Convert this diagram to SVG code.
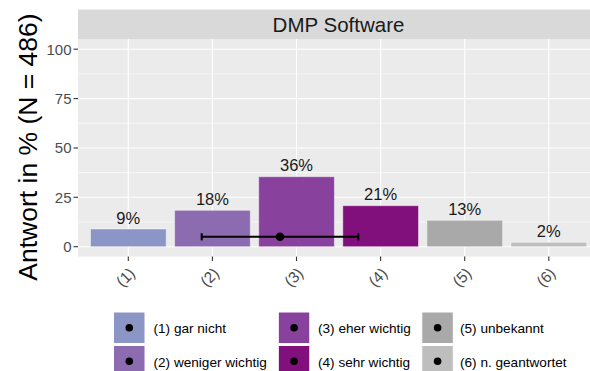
<svg xmlns="http://www.w3.org/2000/svg" width="590" height="371" viewBox="0 0 590 371">
  <style>
    .grid-major { stroke: #ffffff; stroke-width: 1.1; fill: none; }
    .grid-minor { stroke: #ffffff; stroke-width: 0.55; fill: none; }
    .tick { stroke: #333333; stroke-width: 1.1; }
    .ytick { font-family: "Liberation Sans", Arial, sans-serif; font-size: 15px; fill: #4d4d4d; text-anchor: end; }
    .xtick { font-family: "Liberation Sans", Arial, sans-serif; font-size: 15.5px; fill: #4d4d4d; text-anchor: middle; }
    .val { font-family: "Liberation Sans", Arial, sans-serif; font-size: 16.5px; fill: #1a1a1a; text-anchor: middle; }
    .bar { stroke: #ffffff; stroke-opacity: 0.45; stroke-width: 1; }
    .leg { font-family: "Liberation Sans", Arial, sans-serif; font-size: 13.6px; fill: #000000; }
    .key { stroke: #ffffff; stroke-width: 1; }
    .err { stroke: #000000; stroke-width: 2.1; fill: none; }
  </style>

  <rect x="0" y="0" width="590" height="371" fill="#ffffff"/>

  <!-- facet strip -->
  <g id="strip">
    <rect x="78" y="9.5" width="521" height="29.5" fill="#d9d9d9"/>
    <text x="338.5" y="32.3" font-family="'Liberation Sans', Arial, sans-serif" font-size="20.5" fill="#1a1a1a" text-anchor="middle">DMP Software</text>
  </g>

  <!-- panel background and grid -->
  <g id="panel">
    <rect x="78" y="39" width="521" height="217.6" fill="#ebebeb"/>
    <g class="grid-minor">
      <line x1="78" x2="599" y1="222.0" y2="222.0"/>
      <line x1="78" x2="599" y1="172.6" y2="172.6"/>
      <line x1="78" x2="599" y1="123.3" y2="123.3"/>
      <line x1="78" x2="599" y1="73.9" y2="73.9"/>
    </g>
    <g class="grid-major">
      <line x1="78" x2="599" y1="246.7" y2="246.7"/>
      <line x1="78" x2="599" y1="197.3" y2="197.3"/>
      <line x1="78" x2="599" y1="148.0" y2="148.0"/>
      <line x1="78" x2="599" y1="98.6" y2="98.6"/>
      <line x1="78" x2="599" y1="49.2" y2="49.2"/>
      <line x1="128.3" x2="128.3" y1="39" y2="256.6"/>
      <line x1="212.4" x2="212.4" y1="39" y2="256.6"/>
      <line x1="296.5" x2="296.5" y1="39" y2="256.6"/>
      <line x1="380.6" x2="380.6" y1="39" y2="256.6"/>
      <line x1="464.7" x2="464.7" y1="39" y2="256.6"/>
      <line x1="548.8" x2="548.8" y1="39" y2="256.6"/>
    </g>
  </g>

  <!-- bars with value labels -->
  <g id="bar1">
    <rect class="bar" x="90.5" y="229.0" width="75.7" height="17.7" fill="#8c96c6"/>
    <text class="val" x="128.3" y="224.0">9%</text>
  </g>
  <g id="bar2">
    <rect class="bar" x="174.6" y="210.3" width="75.7" height="36.4" fill="#8c6bb1"/>
    <text class="val" x="212.4" y="205.0">18%</text>
  </g>
  <g id="bar3">
    <rect class="bar" x="258.7" y="176.7" width="75.7" height="70.0" fill="#88419d"/>
    <text class="val" x="296.5" y="171.0">36%</text>
  </g>
  <g id="bar4">
    <rect class="bar" x="342.8" y="205.7" width="75.7" height="41.0" fill="#810f7c"/>
    <text class="val" x="380.6" y="200.2">21%</text>
  </g>
  <g id="bar5">
    <rect class="bar" x="426.9" y="220.3" width="75.7" height="26.4" fill="#a9a9a9"/>
    <text class="val" x="464.7" y="214.8">13%</text>
  </g>
  <g id="bar6">
    <rect class="bar" x="511.0" y="242.3" width="75.7" height="4.4" fill="#bebebe"/>
    <text class="val" x="548.8" y="236.8">2%</text>
  </g>

  <!-- mean and spread -->
  <g id="connectors">
    <line class="err" x1="201.7" x2="358.3" y1="236.8" y2="236.8"/>
    <line class="err" x1="201.7" x2="201.7" y1="233.2" y2="240.4"/>
    <line class="err" x1="358.3" x2="358.3" y1="233.2" y2="240.4"/>
    <circle cx="280" cy="236.8" r="4.3" fill="#000000"/>
  </g>

  <!-- y axis -->
  <g id="y-axis">
    <line class="tick" x1="73.5" x2="78" y1="246.7" y2="246.7"/>
    <line class="tick" x1="73.5" x2="78" y1="197.3" y2="197.3"/>
    <line class="tick" x1="73.5" x2="78" y1="148.0" y2="148.0"/>
    <line class="tick" x1="73.5" x2="78" y1="98.6" y2="98.6"/>
    <line class="tick" x1="73.5" x2="78" y1="49.2" y2="49.2"/>
    <text class="ytick" x="71.5" y="252.0">0</text>
    <text class="ytick" x="71.5" y="202.6">25</text>
    <text class="ytick" x="71.5" y="153.3">50</text>
    <text class="ytick" x="71.5" y="103.9">75</text>
    <text class="ytick" x="71.5" y="54.5">100</text>
    <text x="0" y="0" transform="translate(37,147) rotate(-90)" font-family="'Liberation Sans', Arial, sans-serif" font-size="26.5" fill="#000000" text-anchor="middle">Antwort in % (N = 486)</text>
  </g>

  <!-- x axis -->
  <g id="x-axis">
    <line class="tick" x1="128.3" x2="128.3" y1="256.6" y2="261"/>
    <line class="tick" x1="212.4" x2="212.4" y1="256.6" y2="261"/>
    <line class="tick" x1="296.5" x2="296.5" y1="256.6" y2="261"/>
    <line class="tick" x1="380.6" x2="380.6" y1="256.6" y2="261"/>
    <line class="tick" x1="464.7" x2="464.7" y1="256.6" y2="261"/>
    <line class="tick" x1="548.8" x2="548.8" y1="256.6" y2="261"/>
    <text class="xtick" transform="translate(129.3,281) rotate(-45)">(1)</text>
    <text class="xtick" transform="translate(213.4,281) rotate(-45)">(2)</text>
    <text class="xtick" transform="translate(297.5,281) rotate(-45)">(3)</text>
    <text class="xtick" transform="translate(381.6,281) rotate(-45)">(4)</text>
    <text class="xtick" transform="translate(465.7,281) rotate(-45)">(5)</text>
    <text class="xtick" transform="translate(549.8,281) rotate(-45)">(6)</text>
  </g>

  <!-- legend -->
  <g id="legend">
    <g id="key1">
      <rect class="key" x="113.5" y="312" width="31.5" height="31.5" fill="#8c96c6"/>
      <circle cx="129.3" cy="327.8" r="3.8" fill="#000000"/>
      <text class="leg" x="153.5" y="333.2">(1) gar nicht</text>
    </g>
    <g id="key2">
      <rect class="key" x="113.5" y="345.5" width="31.5" height="31.5" fill="#8c6bb1"/>
      <circle cx="129.3" cy="361.3" r="3.8" fill="#000000"/>
      <text class="leg" x="153.5" y="366.7">(2) weniger wichtig</text>
    </g>
    <g id="key3">
      <rect class="key" x="278.3" y="312" width="31.5" height="31.5" fill="#88419d"/>
      <circle cx="294.1" cy="327.8" r="3.8" fill="#000000"/>
      <text class="leg" x="318" y="333.2">(3) eher wichtig</text>
    </g>
    <g id="key4">
      <rect class="key" x="278.3" y="345.5" width="31.5" height="31.5" fill="#810f7c"/>
      <circle cx="294.1" cy="361.3" r="3.8" fill="#000000"/>
      <text class="leg" x="318" y="366.7">(4) sehr wichtig</text>
    </g>
    <g id="key5">
      <rect class="key" x="421.8" y="312" width="31.5" height="31.5" fill="#a9a9a9"/>
      <circle cx="437.6" cy="327.8" r="3.8" fill="#000000"/>
      <text class="leg" x="460" y="333.2">(5) unbekannt</text>
    </g>
    <g id="key6">
      <rect class="key" x="421.8" y="345.5" width="31.5" height="31.5" fill="#bebebe"/>
      <circle cx="437.6" cy="361.3" r="3.8" fill="#000000"/>
      <text class="leg" x="460" y="366.7">(6) n. geantwortet</text>
    </g>
  </g>
</svg>
